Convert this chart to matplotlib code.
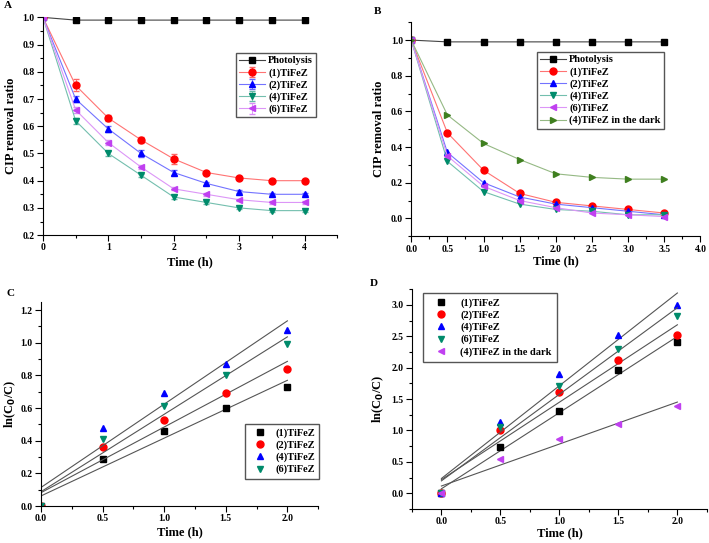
import numpy as np
import matplotlib
matplotlib.use("Agg")
import matplotlib.pyplot as plt
import matplotlib.colors as mcolors
from matplotlib.ticker import MultipleLocator

plt.rcParams['font.family'] = ['Liberation Serif', 'DejaVu Serif']
plt.rcParams['font.weight'] = 'bold'
plt.rcParams['axes.labelweight'] = 'bold'

# === Panel A data ===
t_a = [0, 0.5, 1, 1.5, 2, 2.5, 3, 3.5, 4]
a_photo = [1.0, 0.99, 0.99, 0.99, 0.99, 0.99, 0.99, 0.99, 0.99]
a_1 = [1.0, 0.75, 0.63, 0.55, 0.48, 0.43, 0.41, 0.40, 0.40]
a_2 = [1.0, 0.70, 0.59, 0.50, 0.43, 0.39, 0.36, 0.35, 0.35]
a_4 = [1.0, 0.62, 0.50, 0.42, 0.34, 0.32, 0.30, 0.29, 0.29]
a_6 = [1.0, 0.66, 0.54, 0.45, 0.37, 0.35, 0.33, 0.32, 0.32]
a_1_err = [0, 0.022, 0.01, 0.01, 0.018, 0.006, 0.005, 0.004, 0.004]
a_2_err = [0, 0.012, 0.01, 0.014, 0.008, 0.006, 0.005, 0.004, 0.004]
a_4_err = [0, 0.01, 0.008, 0.006, 0.006, 0.004, 0.004, 0.004, 0.004]
a_6_err = [0, 0.012, 0.01, 0.008, 0.006, 0.005, 0.004, 0.004, 0.004]

# === Panel B data ===
t_b = [0, 0.5, 1, 1.5, 2, 2.5, 3, 3.5]
b_photo = [1.0, 0.99, 0.99, 0.99, 0.99, 0.99, 0.99, 0.99]
b_1 = [1.0, 0.48, 0.27, 0.14, 0.09, 0.07, 0.05, 0.03]
b_2 = [1.0, 0.37, 0.20, 0.12, 0.08, 0.06, 0.04, 0.02]
b_4 = [1.0, 0.32, 0.15, 0.08, 0.05, 0.04, 0.02, 0.02]
b_6 = [1.0, 0.35, 0.18, 0.10, 0.06, 0.03, 0.02, 0.01]
b_dark = [1.0, 0.58, 0.42, 0.33, 0.25, 0.23, 0.22, 0.22]

# === Panel C data (ln(C0/C)) ===
t_k = [0, 0.5, 1, 1.5, 2]
c_1 = [0, 0.29, 0.46, 0.60, 0.73]
c_2 = [0, 0.36, 0.53, 0.69, 0.84]
c_4 = [0, 0.48, 0.69, 0.87, 1.08]
c_6 = [0, 0.41, 0.61, 0.80, 0.99]

# === Panel D data ===
d_1 = [0, 0.73, 1.31, 1.97, 2.41]
d_2 = [0, 1.00, 1.61, 2.12, 2.52]
d_4 = [0, 1.14, 1.90, 2.52, 3.00]
d_6 = [0, 1.05, 1.71, 2.30, 2.82]
d_dark = [0, 0.55, 0.87, 1.11, 1.39]

labels = ["(1)TiFeZ", "(2)TiFeZ", "(4)TiFeZ", "(6)TiFeZ"]
colors = ["#FF0000", "#0000FF", "#008B6B", "#C040F0"]
markers = ["o", "^", "v", "<"]
dark_color = "#3F7F1F"


def lighter(c, f=0.45):
    r, g, b = mcolors.to_rgb(c)
    return (r + (1 - r) * f, g + (1 - g) * f, b + (1 - b) * f)


def style_axes(ax, xmaj, xmin, ymaj, ymin):
    for s in ["top", "right"]:
        ax.spines[s].set_visible(False)
    ax.xaxis.set_major_locator(MultipleLocator(xmaj))
    ax.xaxis.set_minor_locator(MultipleLocator(xmin))
    ax.yaxis.set_major_locator(MultipleLocator(ymaj))
    ax.yaxis.set_minor_locator(MultipleLocator(ymin))
    ax.tick_params(which="major", direction="out", length=4, width=0.8, labelsize=7, pad=2)
    ax.tick_params(which="minor", direction="out", length=2, width=0.8)
    for lab in ax.get_xticklabels() + ax.get_yticklabels():
        lab.set_fontweight("bold")


leg_kw = dict(fontsize=7.5, fancybox=False, edgecolor="#555555", borderaxespad=0,
              framealpha=1, labelspacing=0.25)

fig = plt.figure(figsize=(7.09, 5.43), dpi=100)

# --- A ---
ax = fig.add_axes([0.0606, 0.567, 0.415, 0.401])
ax.plot(t_a, a_photo, "-s", color="#444444", mfc="black", mec="black", ms=4.5, lw=0.8, label="Photolysis")
for y, e, c, m, l in zip([a_1, a_2, a_4, a_6], [a_1_err, a_2_err, a_4_err, a_6_err], colors, markers, labels):
    ax.errorbar(t_a, y, yerr=e, fmt="-" + m, color=lighter(c), mfc=c, mec=c, ms=5, lw=0.8,
                ecolor=lighter(c, 0.4), elinewidth=0.6, capsize=2, label=l)
ax.set_xlim(0, 4.5)
ax.set_ylim(0.2, 1.0)
style_axes(ax, 1, 0.5, 0.1, 0.05)
ax.set_xlabel("Time (h)", fontsize=9, labelpad=3)
ax.set_ylabel("CIP removal ratio", fontsize=9, labelpad=4)
ax.legend(loc="upper left", bbox_to_anchor=(236 / 709, 1 - 53 / 543), bbox_transform=fig.transFigure,
          handlelength=2.5, borderpad=0.3, handletextpad=0.3, **leg_kw)

# --- B ---
ax = fig.add_axes([0.580, 0.565, 0.408, 0.394])
ax.plot(t_b, b_photo, "-s", color="#444444", mfc="black", mec="black", ms=4.5, lw=0.8, label="Photolysis")
for y, c, m, l in zip([b_1, b_2, b_4, b_6], colors, markers, labels):
    ax.plot(t_b, y, "-" + m, color=lighter(c), mfc=c, mec=c, ms=5, lw=0.8, label=l)
ax.plot(t_b, b_dark, "->", color=lighter(dark_color), mfc=dark_color, mec=dark_color, ms=5, lw=0.8,
        label="(4)TiFeZ in the dark")
ax.set_xlim(0, 4.0)
ax.set_ylim(-0.1, 1.1)
style_axes(ax, 0.5, 0.25, 0.2, 0.1)
ax.set_xlabel("Time (h)", fontsize=9, labelpad=1)
ax.set_ylabel("CIP removal ratio", fontsize=9, labelpad=4)
ax.legend(loc="upper left", bbox_to_anchor=(537 / 709, 1 - 52 / 543), bbox_transform=fig.transFigure,
          handlelength=2.5, borderpad=0.3, handletextpad=0.3, **leg_kw)

# --- C ---
ax = fig.add_axes([0.0578, 0.068, 0.391, 0.376])
k_colors = ["#000000", "#FF0000", "#0000FF", "#008B6B"]
k_markers = ["s", "o", "^", "v"]
xs = np.array([0, 2])
for y, c, m, l in zip([c_1, c_2, c_4, c_6], k_colors, k_markers, labels):
    p = np.polyfit(t_k, y, 1)
    ax.plot(xs, np.polyval(p, xs), color="#555555", lw=0.8)
    ax.plot(t_k, y, m, color=c, ms=5, ls="none", label=l)
ax.set_xlim(0, 2.25)
ax.set_ylim(0, 1.25)
style_axes(ax, 0.5, 0.25, 0.2, 0.1)
ax.set_xlabel("Time (h)", fontsize=9, labelpad=2)
ax.set_ylabel("ln(C$_\\mathbf{0}$/C)", fontsize=9, labelpad=2)
ax.legend(loc="upper left", bbox_to_anchor=(245 / 709, 1 - 424 / 543), bbox_transform=fig.transFigure,
          handlelength=2.0, borderpad=0.4, handletextpad=0.5, **leg_kw)

# --- D ---
ax = fig.add_axes([0.581, 0.0626, 0.416, 0.405])
for y, c, m, l in zip([d_1, d_2, d_4, d_6, d_dark], k_colors + ["#C040F0"], k_markers + ["<"],
                      labels + ["(4)TiFeZ in the dark"]):
    p = np.polyfit(t_k, y, 1)
    ax.plot(xs, np.polyval(p, xs), color="#555555", lw=0.8)
    ax.plot(t_k, y, m, color=c, ms=5, ls="none", label=l)
ax.set_xlim(-0.25, 2.25)
ax.set_ylim(-0.25, 3.25)
style_axes(ax, 0.5, 0.25, 0.5, 0.25)
ax.set_xlabel("Time (h)", fontsize=9, labelpad=1)
ax.set_ylabel("ln(C$_\\mathbf{0}$/C)", fontsize=9, labelpad=4)
ax.legend(loc="upper left", bbox_to_anchor=(423 / 709, 1 - 293 / 543), bbox_transform=fig.transFigure,
          handlelength=2.5, borderpad=0.5, handletextpad=0.6, **leg_kw)

# panel letters
for x, y, s in [(4, 6, "A"), (374, 12, "B"), (6, 293, "C"), (370, 283, "D")]:
    fig.text(x / 709, 1 - y / 543, s, fontsize=8, fontweight="bold", va="center")

fig.savefig("out.png", dpi=100)
